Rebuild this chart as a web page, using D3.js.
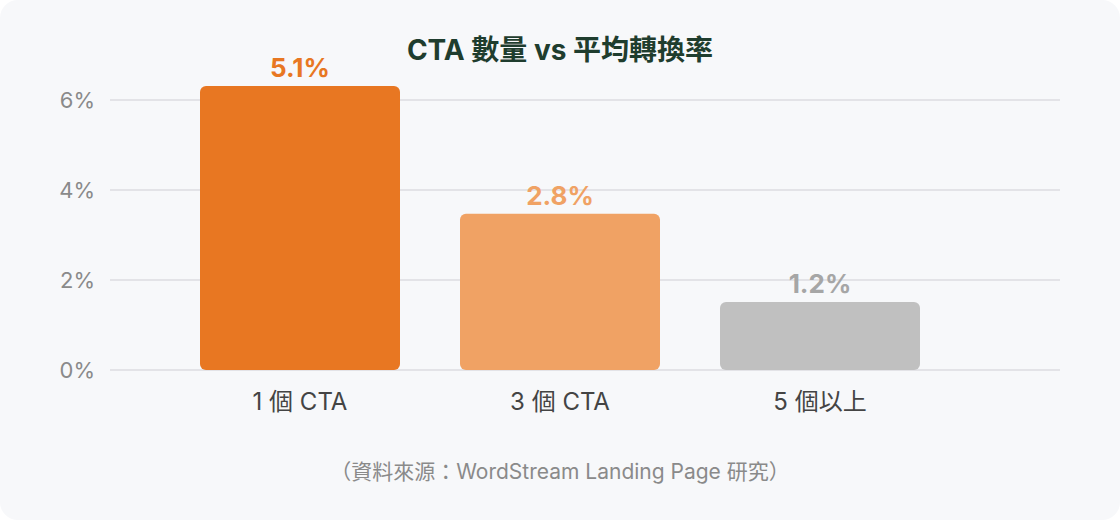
<!DOCTYPE html>
<html lang="zh-Hant">
<head>
<meta charset="UTF-8">
<title>CTA 數量 vs 平均轉換率</title>
<style>
  html, body { margin: 0; padding: 0; background: #ffffff; }
  #chart { width: 1120px; height: 520px; }
  text { font-family: Inter, "Noto Sans CJK TC", "Noto Sans", sans-serif; }
</style>
<script src="https://cdn.jsdelivr.net/npm/d3@7"></script>
</head>
<body>
<div id="chart"></div>
<script>
  // data (bar heights on the % axis, labels as printed)
  var categories = ["1 個 CTA", "3 個 CTA", "5 個以上"];
  var barValues = [6.31, 3.47, 1.51];
  var valueLabels = ["5.1%", "2.8%", "1.2%"];
  var yTicks = [0, 2, 4, 6];
  var yTickLabels = ["0%", "2%", "4%", "6%"];

  var colors = ["#e87722", "#f0a264", "#c0c0c0"];
  var labelColors = ["#e87722", "#f0a264", "#a6a6a6"];

  var width = 1120, height = 520;

  var svg = d3.select("#chart").append("svg")
      .attr("width", width)
      .attr("height", height);

  // card background
  svg.append("rect")
      .attr("x", 0).attr("y", 0)
      .attr("width", width).attr("height", height)
      .attr("rx", 18)
      .attr("fill", "#f7f8fa");

  var x = d3.scaleBand()
      .domain(categories)
      .range([170, 950])
      .paddingInner(60 / 260)
      .paddingOuter(30 / 260);

  var y = d3.scaleLinear()
      .domain([0, 6])
      .range([370, 100]);

  // grid + y labels
  var grid = svg.append("g");
  grid.selectAll("line")
      .data(yTicks)
      .join("line")
      .attr("x1", 110).attr("x2", 1060)
      .attr("y1", function(d) { return y(d); })
      .attr("y2", function(d) { return y(d); })
      .attr("stroke", "#dcdde0")
      .attr("stroke-width", 1.5);

  grid.selectAll("text")
      .data(yTicks)
      .join("text")
      .attr("x", 95)
      .attr("y", function(d) { return y(d); })
      .attr("dy", "0.36em")
      .attr("text-anchor", "end")
      .attr("font-size", 22)
      .attr("fill", "#8a8a8a")
      .text(function(d, i) { return yTickLabels[i]; });

  // bars
  svg.append("g").selectAll("rect")
      .data(barValues)
      .join("rect")
      .attr("x", function(d, i) { return x(categories[i]); })
      .attr("y", function(d) { return y(d); })
      .attr("width", x.bandwidth())
      .attr("height", function(d) { return y(0) - y(d); })
      .attr("rx", 6)
      .attr("fill", function(d, i) { return colors[i]; });

  // value labels
  svg.append("g").selectAll("text")
      .data(barValues)
      .join("text")
      .attr("x", function(d, i) { return x(categories[i]) + x.bandwidth() / 2; })
      .attr("y", function(d) { return y(d) - 9; })
      .attr("text-anchor", "middle")
      .attr("font-size", 26)
      .attr("font-weight", 700)
      .attr("fill", function(d, i) { return labelColors[i]; })
      .text(function(d, i) { return valueLabels[i]; });

  // x labels
  svg.append("g").selectAll("text")
      .data(categories)
      .join("text")
      .attr("x", function(d) { return x(d) + x.bandwidth() / 2; })
      .attr("y", 410)
      .attr("text-anchor", "middle")
      .attr("font-size", 24)
      .attr("fill", "#444")
      .text(function(d) { return d; });

  // title
  svg.append("text")
      .attr("x", 560)
      .attr("y", 60)
      .attr("text-anchor", "middle")
      .attr("font-size", 28)
      .attr("font-weight", 700)
      .attr("fill", "#1f3d2e")
      .text("CTA 數量 vs 平均轉換率");

  // source note
  svg.append("text")
      .attr("x", 560)
      .attr("y", 479)
      .attr("text-anchor", "middle")
      .attr("font-size", 21)
      .attr("fill", "#8a8a8a")
      .text("（資料來源：WordStream Landing Page 研究）");
</script>
</body>
</html>
